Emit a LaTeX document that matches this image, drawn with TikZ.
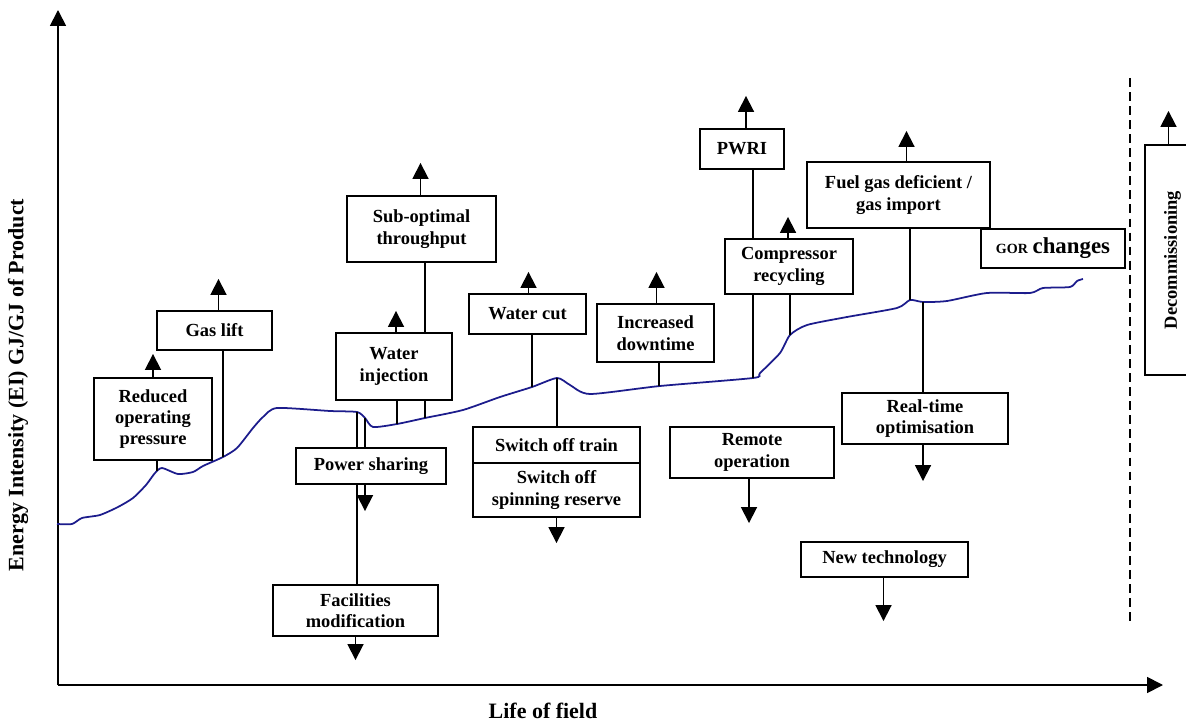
\documentclass[tikz,border=0pt]{standalone}
\usepackage{fontspec}
\setmainfont{Liberation Serif}
\usetikzlibrary{arrows.meta}

\tikzset{
  box/.style 2 args={draw, line width=1.2pt, fill=white, inner sep=0pt, align=center,
    minimum width=#1cm, minimum height=#2cm,
    font=\fontsize{10.5}{12.2}\selectfont\bfseries},
  arr/.style={line width=1pt, -{Triangle[width=9pt,length=9pt]}},
  conn/.style={line width=1pt},
  eicurve/.style={line width=1pt, color={rgb,255:red,28;green,28;blue,140}},
  axlabel/.style={font=\fontsize{12.5}{14}\selectfont\bfseries}
}

\begin{document}
\begin{tikzpicture}[x=0.02cm, y=-0.02cm]
    \useasboundingbox (0,0) rectangle (1186,722);
    % axes
    \coordinate (o) at (58,685);
    \coordinate (ytip) at (58,10);
    \coordinate (xtip) at (1163,685);
    \draw[arr] (o) -- (ytip);
    \draw[arr] (o) -- (xtip);
    \node[axlabel] (xlabel) at (543,711) {Life of field};
    \node[axlabel, rotate=90] (ylabel) at (18,385) {Energy Intensity (EI) GJ/GJ of Product};
    % end of field life
    \coordinate (dtop) at (1130,78);
    \coordinate (dbot) at (1130,622);
    \draw[line width=1pt, dash pattern=on 5pt off 3pt] (dtop) -- (dbot);

    % energy intensity curve
    \draw[eicurve] plot[smooth, tension=0.4] coordinates {
        (57,524) (72,524) (82,518) (100,515) (118,507) (133,498) (146,485)
        (155,473) (162,468) (178,474) (193,472) (203,466) (223,457)
        (237,448) (253,428) (263,417) (277,408) (330,411) (357,412)
        (365,418) (373,427) (397,424) (425,418) (463,410) (500,397)
        (532,387) (557,378) (570,385) (590,394) (660,386) (753,378)
        (760,373) (780,353) (790,335) (807,325) (847,317) (897,308)
        (910,300) (923,302) (947,301) (987,293) (1030,293) (1043,288)
        (1070,287) (1077,281) (1083,279)};
    \coordinate (cRed) at (157,471);
    \coordinate (cGas) at (223,457);
    \coordinate (cPow1) at (357,412);
    \coordinate (cPow2) at (365,418);
    \coordinate (cWat) at (397,424);
    \coordinate (cSub) at (425,418);
    \coordinate (cCut) at (532,387);
    \coordinate (cSw) at (557,378);
    \coordinate (cDown) at (659,386);
    \coordinate (cPwri) at (753,378);
    \coordinate (cComp) at (790,335);
    \coordinate (cFuel) at (910,300);
    \coordinate (cReal) at (923,302);

    % boxes
    \node[box={2.36}{1.64}] (redpress) at (153,419) {Reduced\\operating\\pressure};
    \node[box={2.30}{0.78}] (gaslift) at (214.5,330.5) {Gas lift};
    \node[box={2.98}{1.32}] (subopt) at (421.5,229) {Sub-optimal\\throughput};
    \node[box={2.32}{1.34}] (watinj) at (394,366.5) {Water\\injection};
    \node[box={3.00}{0.72}] (powshare) at (371,466) {Power sharing};
    \node[box={3.30}{1.02}] (facmod) at (355.5,610.5) {Facilities\\modification};
    \node[box={2.34}{0.80}] (watcut) at (527.5,314) {Water cut};
    \node[box={3.34}{0.72}] (switchtrain) at (556.5,445) {Switch off train};
    \node[box={3.34}{1.08}] (switchspin) at (556.5,490) {Switch off\\spinning reserve};
    \node[box={2.34}{1.16}] (incdown) at (655.5,333) {Increased\\downtime};
    \node[box={1.68}{0.80}] (pwri) at (742,149) {PWRI};
    \node[box={2.56}{1.10}] (comprec) at (789,266.5) {Compressor\\recycling};
    \node[box={3.66}{1.32}] (fuelgas) at (898.5,195) {Fuel gas deficient /\\gas import};
    \node[box={2.88}{0.78}] (gorchg) at (1053,248.5)
        {{\fontsize{8}{9}\selectfont GOR} {\fontsize{13}{14}\selectfont changes}};
    \node[box={3.32}{1.02}] (realtime) at (925,418.5) {Real-time\\optimisation};
    \node[box={3.28}{1.02}] (remote) at (752,452.5) {Remote\\operation};
    \node[box={3.34}{0.70}] (newtech) at (884.5,559.5) {New technology};
    \node[box={1.10}{4.60}] (decom) at (1172.5,260) {};
    \node[box={0}{0}, draw=none, fill=none, rotate=90] (decomtext) at (decom.center) {Decommissioning};

    % connectors
    \draw[arr] (redpress.north) -- ++(0,-23);
    \draw[conn] (cRed |- redpress.south) -- (cRed);
    \draw[arr] (gaslift.north) ++(4,0) -- ++(0,-31);
    \draw[conn] (cGas |- gaslift.south) -- (cGas);
    \draw[arr] (subopt.north) ++(-1,0) -- ++(0,-32);
    \draw[conn] (cSub |- subopt.south) -- (cSub |- watinj.north);
    \draw[conn] (cSub |- watinj.south) -- (cSub);
    \draw[arr] (watinj.north) ++(2,0) -- ++(0,-21);
    \draw[conn] (cWat |- watinj.south) -- (cWat);
    \draw[conn] (cPow1) -- (cPow1 |- powshare.north);
    \draw[conn] (cPow1 |- powshare.south) -- (cPow1 |- facmod.north);
    \draw[conn] (cPow2) -- (cPow2 |- powshare.north);
    \draw[arr] (cPow2 |- powshare.south) -- ++(0,26);
    \draw[arr] (facmod.south) -- ++(0,23);
    \draw[arr] (watcut.north) ++(1,0) -- ++(0,-21);
    \draw[conn] (cCut |- watcut.south) -- (cCut);
    \draw[conn] (cSw) -- (cSw |- switchtrain.north);
    \draw[arr] (switchspin.south) -- ++(0,25);
    \draw[arr] (incdown.north) ++(1,0) -- ++(0,-31);
    \draw[conn] (cDown |- incdown.south) -- (cDown);
    \draw[arr] (pwri.north) ++(4,0) -- ++(0,-32);
    \draw[conn] (cPwri |- pwri.south) -- (cPwri |- comprec.north);
    \draw[conn] (cPwri |- comprec.south) -- (cPwri);
    \draw[arr] (comprec.north) ++(-1,0) -- ++(0,-21);
    \draw[conn] (cComp |- comprec.south) -- (cComp);
    \draw[arr] (fuelgas.north) ++(8,0) -- ++(0,-30);
    \draw[conn] (cFuel |- fuelgas.south) -- (cFuel);
    \draw[conn] (cReal) -- (cReal |- realtime.north);
    \draw[arr] (cReal |- realtime.south) -- ++(0,36);
    \draw[arr] (remote.south) ++(-3,0) -- ++(0,44);
    \draw[arr] (newtech.south) ++(-1,0) -- ++(0,43);
    \draw[arr] (decom.north) ++(-4,0) -- ++(0,-33);
\end{tikzpicture}
\end{document}
